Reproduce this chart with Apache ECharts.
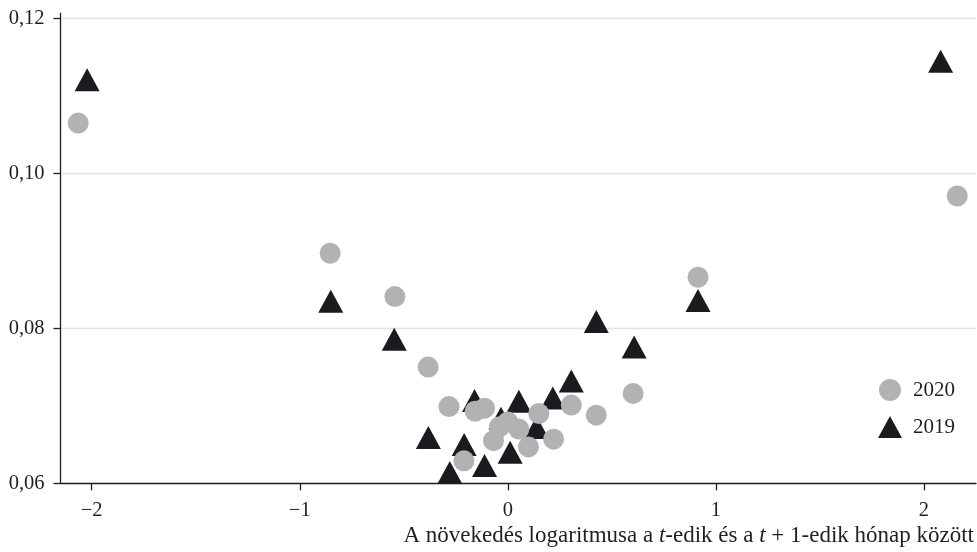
<!DOCTYPE html>
<html>
<head>
<meta charset="utf-8">
<script src="https://cdn.jsdelivr.net/npm/echarts@6/dist/echarts.min.js"></script>
<style>
html,body{margin:0;padding:0;background:#fff;}
#chart{width:977px;height:552px;}
</style>
</head>
<body>
<div id="chart"></div>
<script>
// 2020 (circles)
const x2020 = [-2.065, -0.854, -0.543, -0.383, -0.283, -0.211, -0.157, -0.112, -0.069, -0.040, 0.000, 0.053, 0.099, 0.149, 0.220, 0.305, 0.425, 0.602, 0.914, 2.160];
const y2020 = [0.1065, 0.0897, 0.0841, 0.0750, 0.0699, 0.0629, 0.0693, 0.0697, 0.0655, 0.0673, 0.0679, 0.0670, 0.0647, 0.0690, 0.0657, 0.0701, 0.0688, 0.0716, 0.0866, 0.0971];
// 2019 (triangles)
const x2019 = [-2.022, -0.851, -0.546, -0.382, -0.279, -0.210, -0.160, -0.112, -0.033, 0.011, 0.053, 0.138, 0.216, 0.305, 0.425, 0.607, 0.914, 2.080];
const y2019 = [0.1121, 0.0835, 0.0786, 0.0659, 0.0614, 0.0650, 0.0707, 0.0623, 0.0684, 0.0640, 0.0706, 0.0672, 0.0710, 0.0732, 0.0809, 0.0776, 0.0836, 0.1145];
const xTicks = [-2, -1, 0, 1, 2];
const yTicks = [0.06, 0.08, 0.10, 0.12];
const seriesNames = ['2020', '2019'];
const xTitle = 'A növekedés logaritmusa a {i|t}-edik és a {i|t} + 1-edik hónap között';

const FONT = '"Liberation Serif", "DejaVu Serif", serif';
const INK = '#231f20';
const zip = (xs, ys) => xs.map((v, i) => [v, ys[i]]);

const chart = echarts.init(document.getElementById('chart'), null, {renderer: 'canvas'});
chart.setOption({
  animation: false,
  backgroundColor: '#ffffff',
  grid: {left: 60.5, right: 0, top: 13.1, bottom: 68.7, containLabel: false},
  xAxis: {
    type: 'value', min: -2.15, max: 2.25,
    name: xTitle, nameLocation: 'end', nameGap: -2,
    nameTextStyle: {
      fontFamily: FONT, fontSize: 23, color: INK, align: 'right', verticalAlign: 'top',
      padding: [41, 0, 0, 0],
      rich: {i: {fontFamily: FONT, fontSize: 23, color: INK, fontStyle: 'italic'}}
    },
    axisLine: {show: true, onZero: false, lineStyle: {color: INK, width: 1.3}},
    axisTick: {show: true, length: 7, customValues: xTicks, lineStyle: {color: INK, width: 1.3}},
    axisLabel: {customValues: xTicks, margin: 17, fontFamily: FONT, fontSize: 20.5, color: INK,
      formatter: v => String(v).replace('-', '\u2212')},
    splitLine: {show: false}
  },
  yAxis: {
    type: 'value', min: 0.06, max: 0.1207,
    axisLine: {show: true, onZero: false, lineStyle: {color: INK, width: 1.3}},
    axisTick: {show: true, length: 7, customValues: yTicks, lineStyle: {color: INK, width: 1.3}},
    axisLabel: {customValues: yTicks, margin: 16, fontFamily: FONT, fontSize: 20.5, color: INK,
      formatter: v => v.toFixed(2).replace('.', ',')},
    splitLine: {show: true, lineStyle: {color: '#e2e2e2', width: 1.3}}
  },
  legend: {
    data: seriesNames, orient: 'vertical', left: 873, top: 374,
    itemWidth: 24, itemHeight: 22, itemGap: 15,
    textStyle: {fontFamily: FONT, fontSize: 21, color: INK, padding: [0, 0, 0, 6]}
  },
  series: [
    {name: '2019', type: 'scatter', symbol: 'triangle', symbolSize: [25, 23],
      itemStyle: {color: '#1c1a1e', opacity: 1}, data: zip(x2019, y2019)},
    {name: '2020', type: 'scatter', symbol: 'circle', symbolSize: 21,
      itemStyle: {color: '#b1b2b4', opacity: 1}, data: zip(x2020, y2020)}
  ]
});
</script>
</body>
</html>
